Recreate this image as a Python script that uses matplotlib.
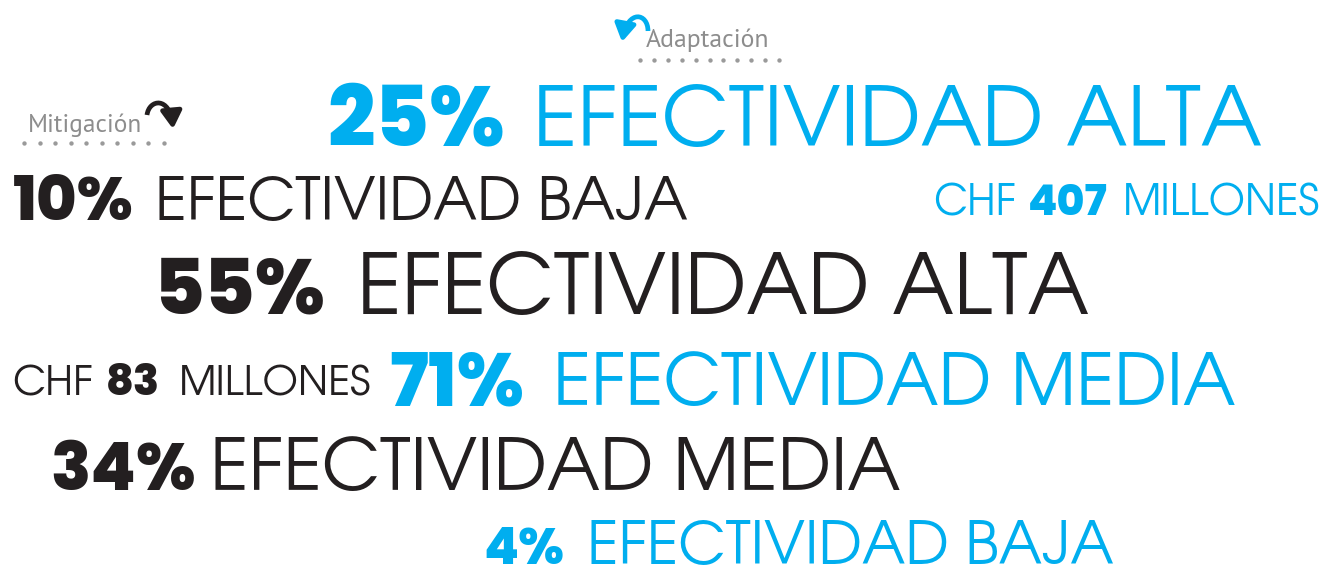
import matplotlib
matplotlib.use("Agg")
import matplotlib.pyplot as plt
from matplotlib.patches import FancyArrowPatch
from matplotlib.path import Path
from matplotlib.textpath import TextPath
from matplotlib.font_manager import FontProperties

# Data ----------------------------------------------------------------------
percents = ["25%", "10%", "55%", "71%", "34%", "4%"]
ratings = ["EFECTIVIDAD ALTA", "EFECTIVIDAD BAJA", "EFECTIVIDAD ALTA",
           "EFECTIVIDAD MEDIA", "EFECTIVIDAD MEDIA", "EFECTIVIDAD BAJA"]
groups = ["Adaptación", "Mitigación", "Mitigación", "Adaptación", "Mitigación", "Adaptación"]

cost_amounts = ["407", "83"]
cost_groups = ["Adaptación", "Mitigación"]
currency = "CHF"
unit = "MILLONES"

group_names = ["Adaptación", "Mitigación"]

# Styles / layout -------------------------------------------------------------
BLUE = "#00aeef"
BLACK = "#231f20"
GREY = "#8d8d8d"
group_colors = {"Adaptación": BLUE, "Mitigación": BLACK}

LIGHT = "TeX Gyre Adventor"
HEAVY = ["Poppins", "DejaVu Sans"]
LABEL = ["PT Sans", "DejaVu Sans"]

# pixel layout: (left of number, right of number, left of words, right of words, baseline)
line_boxes = [(327, 505, 533, 1263, 146),
              (13, 134, 155, 688, 220),
              (153, 325, 357, 1090, 314),
              (389, 541, 553, 1236, 405),
              (50, 196, 210, 900, 490),
              (483, 564, 587, 1113, 564)]
# (CHF left, amount left, amount right, MILLONES left, MILLONES right, baseline)
cost_boxes = [(933, 1028, 1108, 1123, 1320, 215),
              (12, 106, 162, 179, 371, 395)]


def cap_ratio(family, weight):
    # cap height of "H" per 1pt of font size
    p = TextPath((0, 0), "H", size=1, prop=FontProperties(family=family, weight=weight))
    return p.get_extents().height


cap_light = cap_ratio(LIGHT, "normal")
cap_heavy = cap_ratio(HEAVY, 800)

fig = plt.figure(figsize=(13.27, 5.68), dpi=100)
ax = fig.add_axes([0, 0, 1, 1])
ax.set_xlim(0, 1327)
ax.set_ylim(568, 0)
ax.axis("off")

renderer = fig.canvas.get_renderer()


def fit_width(t, x0, x1, limit=None):
    bb = t.get_window_extent(renderer)
    fs = t.get_fontsize() * (x1 - x0) / bb.width
    if limit is not None:
        fs = min(fs, limit)
    t.set_fontsize(fs)
    return fs


def heavy(x0, x1, y, s, color, light_fs):
    # same cap height as the light words, but never wider than the box
    t = ax.text(x0, y, s, color=color, family=HEAVY, weight=800, fontsize=30,
                ha="left", va="baseline")
    fit_width(t, x0, x1, limit=light_fs * cap_light / cap_heavy)


for pct, rating, grp, box in zip(percents, ratings, groups, line_boxes):
    c = group_colors[grp]
    t = ax.text(box[2], box[4], rating, color=c, family=LIGHT, fontsize=40,
                ha="left", va="baseline")
    fs = fit_width(t, box[2], box[3])
    heavy(box[0], box[1], box[4], pct, c, fs)

for amt, grp, box in zip(cost_amounts, cost_groups, cost_boxes):
    c = group_colors[grp]
    t = ax.text(box[3], box[5], unit, color=c, family=LIGHT, fontsize=30,
                ha="left", va="baseline")
    fs = fit_width(t, box[3], box[4])
    ax.text(box[0], box[5], currency, color=c, family=LIGHT, fontsize=fs,
            ha="left", va="baseline")
    heavy(box[1], box[2], box[5], amt, c, fs)

# group labels with dotted underline and curved arrow
label_box = {"Adaptación": (646, 770, 47), "Mitigación": (28, 142, 132)}
dot_rows = {"Adaptación": (640, 779, 11, 60), "Mitigación": (24, 164, 10, 143)}
arrow_paths = {"Adaptación": [(648, 31), (648, 13), (628, 9), (622, 42)],
               "Mitigación": [(147, 115), (149, 99), (170, 96), (173, 129)]}

for g in group_names:
    x0, x1, ly = label_box[g]
    t = ax.text(x0, ly, g, color=GREY, family=LABEL, fontsize=15, ha="left", va="baseline")
    fit_width(t, x0, x1)
    d0, d1, n, yd = dot_rows[g]
    step = (d1 - d0) / (n - 1)
    ax.scatter([d0 + i * step for i in range(n)], [yd] * n, s=10, color="#9a9a9a", lw=0)
    verts = arrow_paths[g]
    path = Path(verts, [Path.MOVETO, Path.CURVE4, Path.CURVE4, Path.CURVE4])
    ax.add_patch(FancyArrowPatch(path=path,
                                 arrowstyle="-|>,head_length=0.75,head_width=0.45",
                                 mutation_scale=14, lw=3.4, color=group_colors[g],
                                 transform=ax.transData, capstyle="butt"))

fig.savefig("out.png", dpi=100)
